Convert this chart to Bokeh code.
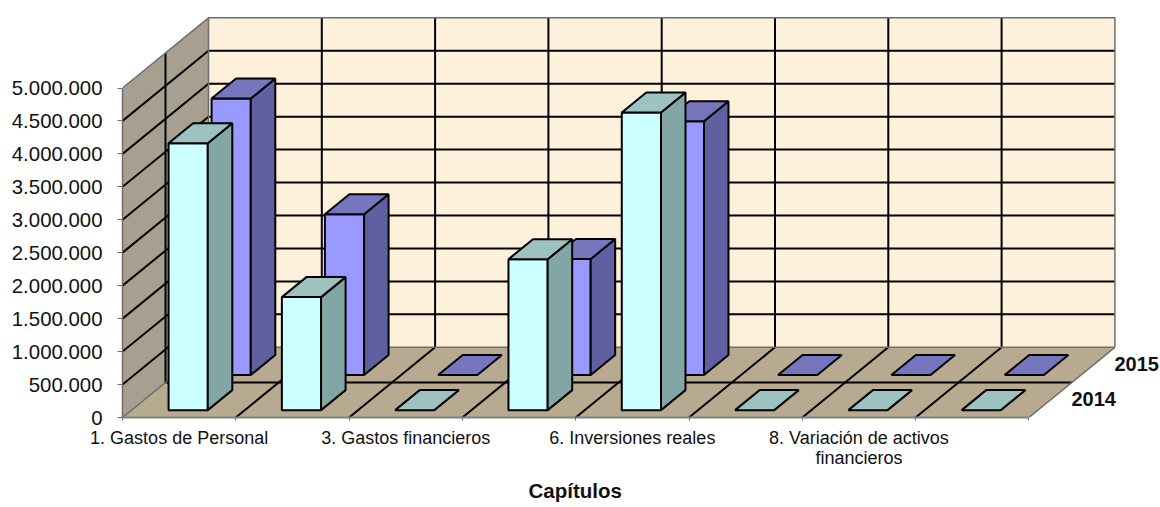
from bokeh.embed import file_html
from bokeh.resources import INLINE
from bokeh.plotting import figure
from bokeh.models import FixedTicker, Label, Range1d, Title

# ---- data ----
shown_labels = {0: "1. Gastos de Personal", 2: "3. Gastos financieros",
                4: "6. Inversiones reales", 6: "8. Variación de activos\nfinancieros"}
n_categories = 8
series_names = ["2014", "2015"]
values_2014 = [4050000, 1715000, 0, 2290000, 4515000, 0, 0, 0]
values_2015 = [4195000, 2440000, 0, 1760000, 3850000, 0, 0, 0]
value_ticks = [0, 500000, 1000000, 1500000, 2000000, 2500000, 3000000, 3500000, 4000000, 4500000, 5000000]
value_tick_labels = ["0", "500.000", "1.000.000", "1.500.000", "2.000.000", "2.500.000",
                     "3.000.000", "3.500.000", "4.000.000", "4.500.000", "5.000.000"]
axis_title = "Capítulos"

# ---- styles ----
FONT = "Liberation Sans"
WALL_BACK = "#FDF1DB"
WALL_SIDE = "#A79F90"
FLOOR = "#B7AA91"
GRID = "#000000"
EDGE = "#6E6E6E"
STYLE = [
    dict(front="#CCFFFF", side="#82A5A5", top="#9CC3BF"),
    dict(front="#9999FF", side="#6060A0", top="#7676BF"),
]

# ---- oblique projection: category, value, depth -> plot coordinates ----
PX_X = 113.3      # pixels per category
PX_V = 65.9 / 1e6 # pixels per value unit
DX = 43.0 / PX_X
DV = 35.1 / PX_V
DEPTH = 2
TOP = 5000000


def pt(u, v, d):
    return u + d * DX, v + d * DV


def poly(points):
    xs, ys = zip(*[pt(*q) for q in points])
    return list(xs), list(ys)


W, H = 1160, 507
LEFT, BOTTOM = 122, 90
p = figure(width=W, height=H, output_backend="svg", toolbar_location=None,
           x_range=Range1d(0, (W - LEFT) / PX_X),
           y_range=Range1d(0, (H - BOTTOM) / PX_V),
           min_border_left=LEFT, min_border_right=0, min_border_top=0, min_border_bottom=BOTTOM)
p.outline_line_color = None
p.xgrid.visible = False
p.ygrid.visible = False
p.background_fill_color = "white"
p.border_fill_color = "white"

# y axis
ya = p.yaxis[0]
ya.ticker = FixedTicker(ticks=value_ticks)
ya.bounds = (0, TOP)
ya.major_label_overrides = dict(zip(value_ticks, value_tick_labels))
ya.major_label_text_font = FONT
ya.major_label_text_font_size = "20.4px"
ya.major_label_text_color = "#111111"
ya.major_tick_in = 0
ya.major_tick_out = 5
ya.minor_tick_in = 0
ya.minor_tick_out = 0
ya.major_tick_line_color = EDGE
ya.axis_line_color = EDGE
ya.axis_line_width = 1.5
ya.major_label_standoff = 15

# x axis: labels sit at category centres, ticks at the boundaries
xa = p.xaxis[0]
label_pos = [k + 0.5 for k in shown_labels]
xa.ticker = FixedTicker(ticks=label_pos, minor_ticks=list(range(n_categories + 1)))
xa.bounds = (0, n_categories)
xa.major_label_overrides = {k + 0.5: t for k, t in shown_labels.items()}
xa.major_label_text_font = FONT
xa.major_label_text_font_size = "18px"
xa.major_label_text_color = "#111111"
xa.major_label_text_line_height = 1.0
xa.major_tick_in = 0
xa.major_tick_out = 0
xa.minor_tick_in = 0
xa.minor_tick_out = 3
xa.minor_tick_line_color = EDGE
xa.axis_line_color = "#808080"
xa.axis_line_width = 2
xa.major_label_standoff = 7
xa.major_label_orientation = "horizontal"

# walls and floor
p.patch(*poly([(0, 0, DEPTH), (n_categories, 0, DEPTH), (n_categories, TOP, DEPTH), (0, TOP, DEPTH)]),
        fill_color=WALL_BACK, line_color=None)
p.patch(*poly([(0, 0, 0), (0, 0, DEPTH), (0, TOP, DEPTH), (0, TOP, 0)]),
        fill_color=WALL_SIDE, line_color=None)
p.patch(*poly([(0, 0, 0), (n_categories, 0, 0), (n_categories, 0, DEPTH), (0, 0, DEPTH)]),
        fill_color=FLOOR, line_color=None)

# grid lines
gx, gy = [], []
def seg(*pts):
    a, b = poly(list(pts))
    gx.append(a)
    gy.append(b)
for v in value_ticks[1:-1]:
    seg((0, v, 0), (0, v, DEPTH), (n_categories, v, DEPTH))
for k in range(1, n_categories):
    seg((k, TOP, DEPTH), (k, 0, DEPTH), (k, 0, 0))
for d in range(1, DEPTH):
    seg((0, TOP, d), (0, 0, d), (n_categories, 0, d))
p.multi_line(gx, gy, line_color=GRID, line_width=2)

# wall edges
ex, ey = [], []
for pts in ([(0, TOP, 0), (0, TOP, DEPTH), (n_categories, TOP, DEPTH), (n_categories, 0, DEPTH)],
            [(0, 0, 0), (0, 0, DEPTH), (n_categories, 0, DEPTH), (n_categories, 0, 0)],
            [(0, 0, DEPTH), (0, TOP, DEPTH)]):
    a, b = poly(pts)
    ex.append(a)
    ey.append(b)
p.multi_line(ex, ey, line_color=EDGE, line_width=1.5)

# bars: back series first, left to right
BAR_U0, BAR_U1 = 0.327, 0.673
BAR_D0, BAR_D1 = 0.21, 0.78
for s, vals in reversed(list(enumerate([values_2014, values_2015]))):
    st = STYLE[s]
    for i, v in enumerate(vals):
        u0, u1, d0, d1 = i + BAR_U0, i + BAR_U1, s + BAR_D0, s + BAR_D1
        top_pts = [(u0, v, d0), (u1, v, d0), (u1, v, d1), (u0, v, d1)]
        if v > 0:
            p.patch(*poly([(u0, 0, d0), (u1, 0, d0), (u1, v, d0), (u0, v, d0)]),
                    fill_color=st["front"], line_color="black", line_width=2)
            p.patch(*poly([(u1, 0, d0), (u1, 0, d1), (u1, v, d1), (u1, v, d0)]),
                    fill_color=st["side"], line_color="black", line_width=2)
        p.patch(*poly(top_pts), fill_color=st["top"], line_color="black", line_width=2)

# series labels at the depth axis
for s, name in enumerate(series_names):
    x, y = pt(n_categories, 0, s + 0.5)
    p.add_layout(Label(x=x, y=y, text=name, x_offset=21, y_offset=1, text_font=FONT, text_font_size="20px",
                       text_font_style="bold", text_color="#111111", text_baseline="middle"))

# axis title, centred under the front edge of the floor
p.add_layout(Title(text=axis_title, align="left", offset=406, text_font=FONT,
                   text_font_size="20.5px", text_font_style="bold", text_color="#111111",
                   text_line_height=0.5, standoff=12), "below")

open("out.html", "w").write(file_html(p, INLINE))
